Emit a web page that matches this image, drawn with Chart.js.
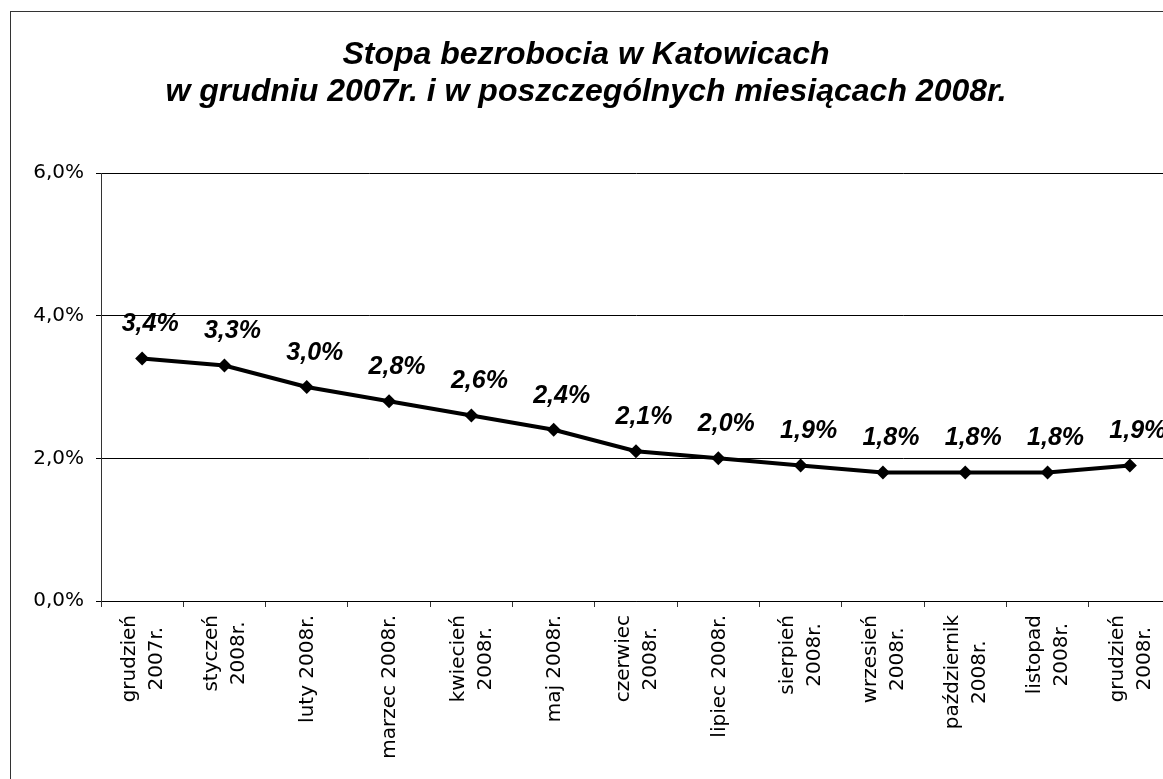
<!DOCTYPE html>
<html>
<head>
<meta charset="utf-8">
<script src="https://cdn.jsdelivr.net/npm/chart.js@4.4.1/dist/chart.umd.min.js"></script>
<style>
  html, body { margin: 0; padding: 0; background: #fff; overflow: hidden; width: 1163px; height: 779px; }
  #frame { position: absolute; left: 10px; top: 11px; width: 2000px; height: 2000px; border: 1px solid #333; }
  #chart { position: absolute; left: -40px; top: 0; }
</style>
</head>
<body>
<div id="frame"></div>
<canvas id="chart" width="1260" height="779"></canvas>
<script>
// Data
const months = [
  ["grudzień", "2007r."], ["styczeń", "2008r."], ["luty 2008r."], ["marzec 2008r."],
  ["kwiecień", "2008r."], ["maj 2008r."], ["czerwiec", "2008r."], ["lipiec 2008r."],
  ["sierpień", "2008r."], ["wrzesień", "2008r."], ["październik", "2008r."],
  ["listopad", "2008r."], ["grudzień", "2008r."]
];
const rates = [3.4, 3.3, 3.0, 2.8, 2.6, 2.4, 2.1, 2.0, 1.9, 1.8, 1.8, 1.8, 1.9];
const titleLines = ["Stopa bezrobocia w Katowicach", "w grudniu 2007r. i w poszczególnych miesiącach 2008r."];

const fmt = v => v.toFixed(1).replace(".", ",") + "%";
const tickFont = "20px 'DejaVu Sans', sans-serif";

// value labels above each point
const valueLabels = {
  id: "valueLabels",
  afterDatasetsDraw(chart) {
    const ctx = chart.ctx;
    const meta = chart.getDatasetMeta(0);
    ctx.save();
    ctx.font = "italic bold 25px 'Liberation Sans', Arial, sans-serif";
    ctx.fillStyle = "#000";
    ctx.textAlign = "center";
    ctx.textBaseline = "middle";
    meta.data.forEach((pt, i) => {
      ctx.fillText(fmt(rates[i]), pt.x + 8, pt.y - 34);
    });
    ctx.restore();
  }
};

// vertical category labels, lines centred on each other
const monthLabels = {
  id: "monthLabels",
  afterDraw(chart) {
    const ctx = chart.ctx;
    const xs = chart.scales.x;
    const lineH = 27;
    ctx.save();
    ctx.font = tickFont;
    ctx.fillStyle = "#000";
    ctx.textAlign = "center";
    ctx.textBaseline = "middle";
    months.forEach((lines, i) => {
      const maxW = Math.max(...lines.map(l => ctx.measureText(l).width));
      const x = xs.getPixelForValue(i) + 1;
      const y = xs.top + 14 + maxW / 2;
      ctx.save();
      ctx.translate(x, y);
      ctx.rotate(-Math.PI / 2);
      lines.forEach((l, j) => {
        ctx.fillText(l, 0, (j - (lines.length - 1) / 2) * lineH);
      });
      ctx.restore();
    });
    ctx.restore();
  }
};

const ctx = document.getElementById("chart").getContext("2d");
new Chart(ctx, {
  type: "line",
  data: {
    labels: months,
    datasets: [{
      data: rates,
      borderColor: "#000",
      backgroundColor: "#000",
      borderWidth: 4,
      tension: 0,
      pointStyle: "rectRot",
      pointRadius: 7,
      pointBorderWidth: 0
    }]
  },
  options: {
    responsive: false,
    animation: false,
    layout: { padding: { left: 41, right: 49, top: 0, bottom: 0 } },
    plugins: {
      legend: { display: false },
      tooltip: { enabled: false },
      title: {
        display: true,
        text: titleLines,
        color: "#000",
        font: { family: "'Liberation Sans', Arial, sans-serif", size: 32, weight: "bold", style: "italic", lineHeight: 36.5 / 32 },
        padding: { top: 37, bottom: 63 }
      }
    },
    scales: {
      x: {
        offset: true,
        grid: { display: true, offset: true, drawOnChartArea: false, drawTicks: true, tickLength: 6, color: "#333" },
        border: { display: true, color: "#000", width: 1 },
        ticks: { display: false, autoSkip: false },
        afterFit: s => { s.height = 178; }
      },
      y: {
        min: 0, max: 6,
        grid: { color: "#000", lineWidth: 1, drawTicks: true, tickLength: 5 },
        border: { display: true, color: "#333", width: 1 },
        ticks: {
          stepSize: 2, padding: 12, color: "#000",
          font: { family: "'DejaVu Sans', sans-serif", size: 20 },
          callback: v => fmt(v)
        },
        afterFit: s => { s.width = 100; }
      }
    }
  },
  plugins: [valueLabels, monthLabels]
});
</script>
</body>
</html>
